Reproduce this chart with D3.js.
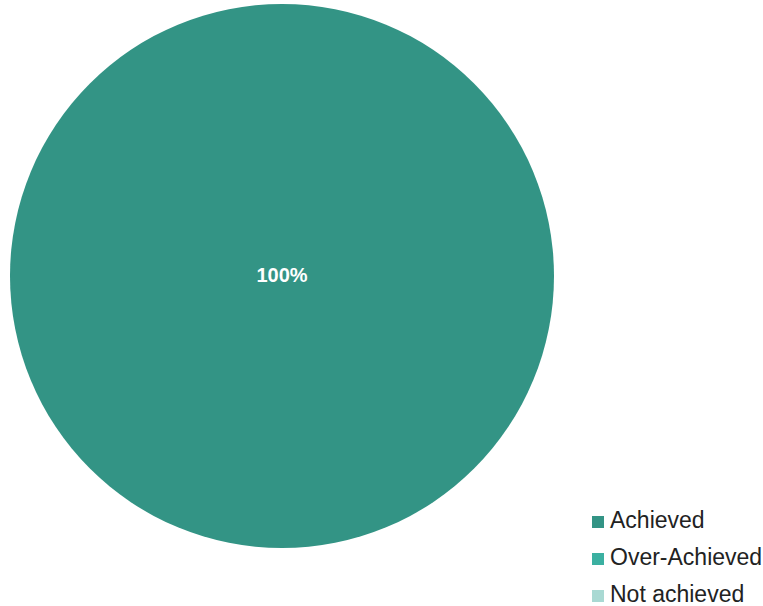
<!DOCTYPE html>
<html>
<head>
<meta charset="utf-8">
<script src="https://cdn.jsdelivr.net/npm/d3@7"></script>
<style>
  html, body { margin: 0; padding: 0; background: #ffffff; }
  svg { display: block; font-family: "Liberation Sans", Arial, sans-serif; }
</style>
</head>
<body>
<svg id="chart" width="763" height="606"></svg>
<script>
// Outcome categories and their shares (percent)
const categories = ["Achieved", "Over-Achieved", "Not achieved"];
const values = [100, 0, 0];
const colors = ["#339485", "#3bb0a1", "#a9d9d3"];

const svg = d3.select("#chart");
const cx = 282, cy = 276, radius = 272;

const data = categories.map((c, i) => ({ category: c, value: values[i] }));
const color = d3.scaleOrdinal().domain(categories).range(colors);

const pie = d3.pie().value(d => d.value).sort(null);
const arc = d3.arc().innerRadius(0).outerRadius(radius);

const g = svg.append("g").attr("transform", `translate(${cx},${cy})`);
const arcs = pie(data).filter(d => d.data.value > 0);

g.selectAll("path.slice")
  .data(arcs)
  .join("path")
  .attr("class", "slice")
  .attr("d", arc)
  .attr("fill", d => color(d.data.category));

const total = d3.sum(values);
g.selectAll("text.value")
  .data(arcs)
  .join("text")
  .attr("class", "value")
  .attr("transform", d => {
    const full = d.endAngle - d.startAngle >= 2 * Math.PI - 1e-6;
    const p = full ? [0, 0] : d3.arc().innerRadius(radius * 0.6).outerRadius(radius * 0.6).centroid(d);
    return `translate(${p[0]},${p[1]})`;
  })
  .attr("text-anchor", "middle")
  .attr("y", 6)
  .attr("fill", "#ffffff")
  .attr("font-weight", "bold")
  .attr("font-size", 20)
  .text(d => Math.round(d.data.value / total * 100) + "%");

// Legend
const legend = svg.append("g").attr("transform", "translate(592,528)");
const rows = legend.selectAll("g.row")
  .data(categories)
  .join("g")
  .attr("class", "row")
  .attr("transform", (d, i) => `translate(0,${i * 37})`);
rows.append("rect")
  .attr("x", 0).attr("y", -12)
  .attr("width", 12).attr("height", 12)
  .attr("fill", d => color(d));
rows.append("text")
  .attr("x", 18)
  .attr("y", 0)
  .attr("font-size", 23)
  .attr("fill", "#222222")
  .text(d => d);
</script>
</body>
</html>
